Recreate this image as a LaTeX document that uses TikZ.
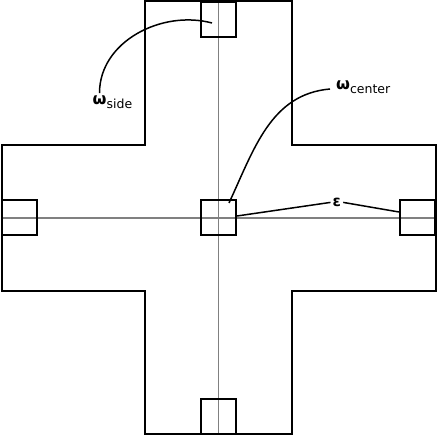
\documentclass[tikz,border=0pt]{standalone}
\usepackage{fontspec}
\setmainfont{DejaVu Sans}
\usepackage{tikz}
\usetikzlibrary{positioning}
\definecolor{axis}{HTML}{808080}

\begin{document}
\begin{tikzpicture}[x=1pt,y=1pt,
wall/.style={draw=black,line width=2pt},
probe/.style={draw=black,line width=2pt,minimum size=35pt,inner sep=0pt},
guide/.style={draw=axis,line width=1.5pt},
lead/.style={draw=black,line width=1.5pt},
sym/.style={inner sep=0pt,anchor=base west}]
\useasboundingbox (0,0) rectangle (437,436);
% cross outline and axes
\draw[wall] (145,434.5) -- (292,434.5) -- (292,291) -- (435.5,291) -- (435.5,145)
  -- (292,145) -- (292,1.5) -- (145,1.5) -- (145,145) -- (1.5,145) -- (1.5,291)
  -- (145,291) -- cycle;
\draw[guide] (218.5,434.5) -- (218.5,1.5);
\draw[guide] (1.5,218) -- (435.5,218);
% probe squares
\node[probe] (topsq) at (218.5,416.5) {};
\node[probe] (botsq) at (218.5,19.5) {};
\node[probe] (leftsq) at (19.5,218) {};
\node[probe] (rightsq) at (417.5,218) {};
\node[probe] (midsq) at (218.5,218) {};
% labels
\node[sym] (wside) at (92.5,331) {{\fontsize{16}{18}\selectfont\bfseries ω}\raisebox{-3.5pt}{\fontsize{12.5}{14}\selectfont side}};
\node[sym] (wcenter) at (336,346) {{\fontsize{16}{18}\selectfont\bfseries ω}\raisebox{-3.5pt}{\fontsize{12.5}{14}\selectfont center}};
\node[sym] (eps) at (332.5,229.5) {\fontsize{15}{17}\selectfont\bfseries ε};
% leaders
\draw[lead] ([xshift=7pt,yshift=3pt]wside.north west) to[out=90,in=165] ([xshift=-6.5pt,yshift=-3.5pt]topsq.center);
\draw[lead] ([xshift=-6pt,yshift=1pt]wcenter.base west) to[out=185,in=65] ([xshift=10.5pt,yshift=15pt]midsq.center);
\draw[lead] ([xshift=-2pt]eps.west) -- ([yshift=2pt]midsq.east);
\draw[lead] ([xshift=2pt]eps.east) -- ([yshift=6pt]rightsq.west);
\end{tikzpicture}
\end{document}
